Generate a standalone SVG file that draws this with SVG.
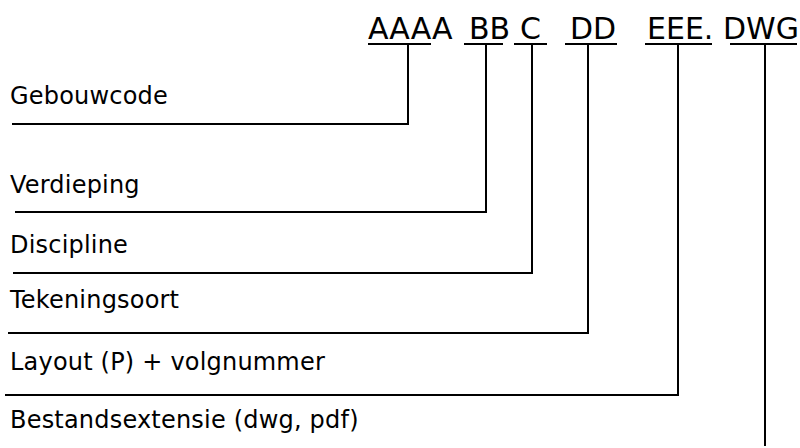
<svg xmlns="http://www.w3.org/2000/svg" width="800" height="448" viewBox="0 0 800 448">
<style>
.code{font-family:"DejaVu Sans","Liberation Sans",sans-serif;font-size:30px;fill:#000}
.lbl{font-family:"DejaVu Sans","Liberation Sans",sans-serif;font-size:24px;letter-spacing:0.2px;fill:#000}
.ln{fill:none;stroke:#000;stroke-width:2}
</style>
<rect width="800" height="448" fill="#fff"/>
<g id="code">
<text class="code" x="368" y="39">AAAA</text>
<text class="code" x="469" y="39">BB</text>
<text class="code" x="520" y="39">C</text>
<text class="code" x="570" y="39">DD</text>
<text class="code" x="647" y="39">EEE.</text>
<text class="code" x="723" y="39">DWG</text>
<path class="ln" d="M368 44H431M464 44H503M514 44H547M565 44H617M645 44H712M730 44H797"/>
</g>
<g id="gebouwcode"><text class="lbl" x="10" y="104">Gebouwcode</text></g>
<g id="verdieping"><text class="lbl" x="10" y="193">Verdieping</text></g>
<g id="discipline"><text class="lbl" x="10" y="253">Discipline</text></g>
<g id="tekeningsoort"><text class="lbl" x="10" y="308">Tekeningsoort</text></g>
<g id="layout"><text class="lbl" x="10" y="370">Layout (P) + volgnummer</text></g>
<g id="bestandsextensie"><text class="lbl" x="10" y="428">Bestandsextensie (dwg, pdf)</text></g>
<g id="connectors">
<path class="ln" d="M408 44V124H12"/>
<path class="ln" d="M486 44V212H15"/>
<path class="ln" d="M532 44V273H13"/>
<path class="ln" d="M588 44V333H8"/>
<path class="ln" d="M678 44V395H5"/>
<path class="ln" d="M765 44V446"/>
</g>
</svg>
